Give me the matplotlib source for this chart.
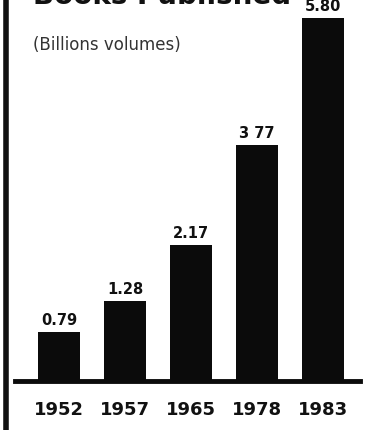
import matplotlib
matplotlib.use("Agg")
import matplotlib.pyplot as plt
from matplotlib.lines import Line2D

# data
years = ['1952', '1957', '1965', '1978', '1983']
volumes = [0.79, 1.28, 2.17, 3.77, 5.80]
value_labels = ['0.79', '1.28', '2.17', '3 77', '5.80']

fig = plt.figure(figsize=(3.7, 4.3), dpi=100)
ax = fig.add_axes([0, 49/430, 1, 381/430])
ax.set_xlim(-59/66, 311/66)
ax.set_ylim(0, 381/62.6)
ax.axis('off')

x = list(range(len(years)))
ax.bar(x, volumes, width=0.65, color='#0b0b0b')

for xi, v, lab in zip(x, volumes, value_labels):
    ax.text(xi, v + 0.06, lab, ha='center', va='bottom', fontsize=10.5,
            fontweight='bold', color='#111111', clip_on=False)
    ax.text(xi, -0.46, years[xi], ha='center', va='center', fontsize=13,
            fontweight='bold', color='#111111', clip_on=False)

# baseline
ax.axhline(0, xmin=15/370, xmax=360/370, color='#0b0b0b', lw=3.5, clip_on=False)

# subtitle and clipped title (cut off at top edge in the original scan)
fig.text(33/370, 1 - 45/430, '(Billions volumes)', fontsize=12, color='#333333',
         va='center', ha='left')
fig.text(33/370, 1 - 4/430, 'Books Published', fontsize=20, fontweight='bold',
         color='#111111', va='baseline', ha='left')

# left frame line
fig.add_artist(Line2D([6/370, 6/370], [0, 1], transform=fig.transFigure,
                      color='#111111', lw=4))

fig.savefig('out.png', dpi=100)
